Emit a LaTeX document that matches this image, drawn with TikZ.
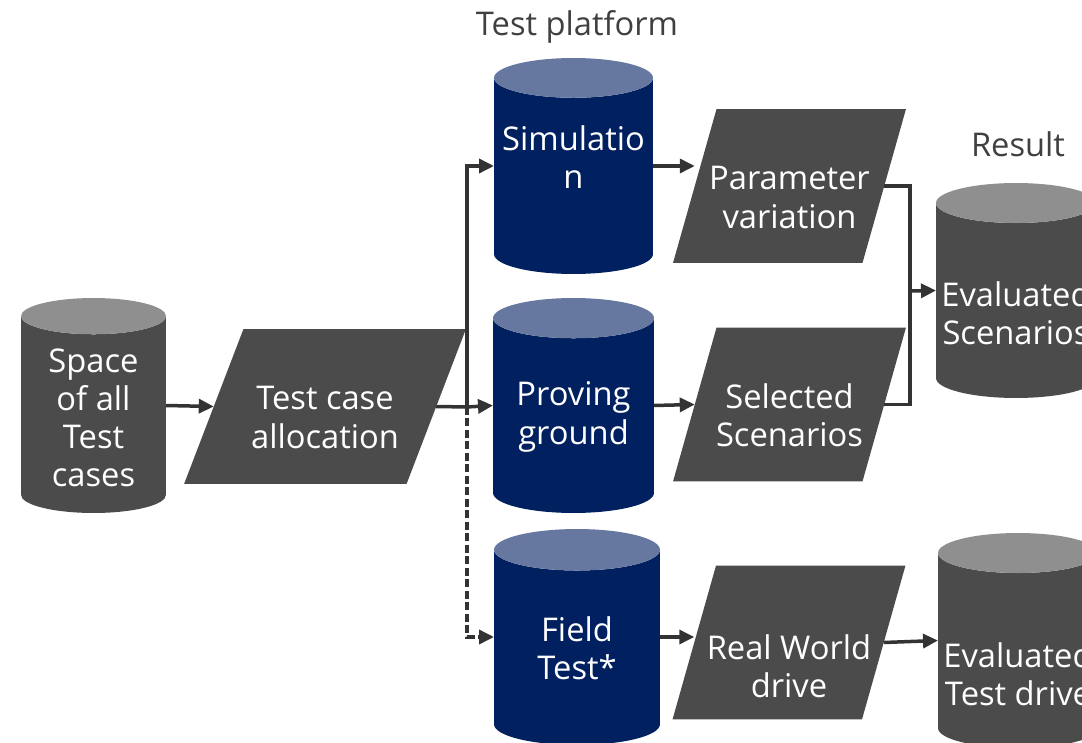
\documentclass[tikz,border=0pt]{standalone}
\usepackage{xcolor}
\usepackage{fontspec}
\setmainfont{Open Sans}
\usepackage{tikz}
\usetikzlibrary{arrows.meta}
\usetikzlibrary{shapes.geometric}

\definecolor{boxgrey}{HTML}{4B4B4B}
\definecolor{topgrey}{HTML}{8F8F8F}
\definecolor{navy}{HTML}{002060}
\definecolor{topnavy}{HTML}{6678A0}
\definecolor{linegrey}{HTML}{333333}
\definecolor{labelgrey}{HTML}{404040}

\begin{document}
\begin{tikzpicture}[x=0.02cm, y=-0.02cm,
  txt/.style={text=white, align=center, font=\fontsize{18.6}{21.8}\selectfont},
  head/.style={text=labelgrey, font=\fontsize{18.6}{21.8}\selectfont},
  cyl/.style={cylinder, shape border rotate=90, aspect=0.25, draw=none,
    inner xsep=#1, inner ysep=2pt, minimum width=2*#1, outer sep=0pt,
    anchor=shape center, cylinder uses custom fill},
  greycyl/.style={cyl=#1, cylinder body fill=boxgrey, cylinder end fill=topgrey},
  bluecyl/.style={cyl=#1, cylinder body fill=navy, cylinder end fill=topnavy},
  para/.style={trapezium, trapezium stretches=true, fill=boxgrey, draw=none,
    inner sep=2pt, outer sep=0pt},
  conn/.style={line width=0.7mm, draw=linegrey},
  arr/.style={conn, -{Triangle[length=3mm,width=2.8mm]}}]

\useasboundingbox (0,0) rectangle (1082,743) ;
\clip (0,0) rectangle (1082,743) ;

% Headings
\node[head] at (577, 27) (plat) {Test platform} ;
\node[head] at (1018, 144) (res) {Result} ;

% Nodes
\node[greycyl=1.45cm, minimum height=4.3cm,
  label={[txt, yshift=0.12cm]center:Space\\of all\\Test\\cases}] at (93.5, 405.5) (space) {} ;
\node[para, minimum width=5.64cm, minimum height=3.1cm,
  trapezium left angle=70, trapezium right angle=110,
  label={[txt, yshift=-0.22cm]center:Test case\\allocation}] at (325, 406.5) (tca) {} ;

\node[bluecyl=1.59cm, minimum height=4.32cm,
  label={[txt, yshift=0.58cm]center:Simulatio\\n}] at (573.5, 166) (sim) {} ;
\node[bluecyl=1.61cm, minimum height=4.3cm,
  label={[txt, yshift=0.18cm]center:Proving\\ground}] at (573.5, 405.5) (prov) {} ;
\node[bluecyl=1.66cm, minimum height=4.32cm,
  label={[txt, yshift=0.2cm]center:Field\\Test*}] at (577, 637) (field) {} ;

\node[para, minimum width=4.66cm, minimum height=3.08cm,
  trapezium left angle=73.4, trapezium right angle=106.6,
  label={[txt, yshift=-0.23cm]center:Parameter\\variation}] at (789.5, 186) (pv) {} ;
\node[para, minimum width=4.66cm, minimum height=3.08cm,
  trapezium left angle=73.4, trapezium right angle=106.6,
  label={[txt, yshift=-0.22cm]center:Selected\\Scenarios}] at (789.5, 404.5) (ss) {} ;
\node[para, minimum width=4.66cm, minimum height=3.08cm,
  trapezium left angle=73.4, trapezium right angle=106.6,
  label={[txt, yshift=-0.48cm]center:Real World\\drive}] at (789, 642.5) (rw) {} ;

\node[greycyl=1.6cm, minimum height=4.3cm,
  label={[txt, yshift=-0.05cm]center:Evaluated\\Scenarios}] at (1016, 290.5) (es) {} ;
\node[greycyl=1.6cm, minimum height=4.3cm,
  label={[txt, yshift=-0.27cm]center:Evaluated\\Test drive}] at (1018, 640.5) (etd) {} ;

\coordinate (split) at (467, 407) ;
\coordinate (merge) at (910, 291) ;

% Lines
\draw[arr] (space.east |- space.shape center) -- (tca.west) ;
\draw[conn] (tca.east) -- (split) ;
\draw[arr] (split) |- (sim.west |- sim.shape center) ;
\draw[arr] (split) -- (prov.west |- prov.shape center) ;
\draw[arr, dash pattern=on 1.6mm off 0.7mm] (split) |- (field.west |- field.shape center) ;

\draw[arr] (sim.east |- sim.shape center) -- (pv.west |- sim.shape center) ;
\draw[arr] (prov.east |- prov.shape center) -- (ss.west) ;
\draw[arr] (field.east |- field.shape center) -- (rw.west |- field.shape center) ;

\draw[conn] (pv.east) -| (merge) ;
\draw[conn] (ss.east) -| (merge) ;
\draw[arr] (merge) -- (es.west |- es.shape center) ;
\draw[arr] (rw.east) -- (etd.west |- etd.shape center) ;

\end{tikzpicture}
\end{document}
